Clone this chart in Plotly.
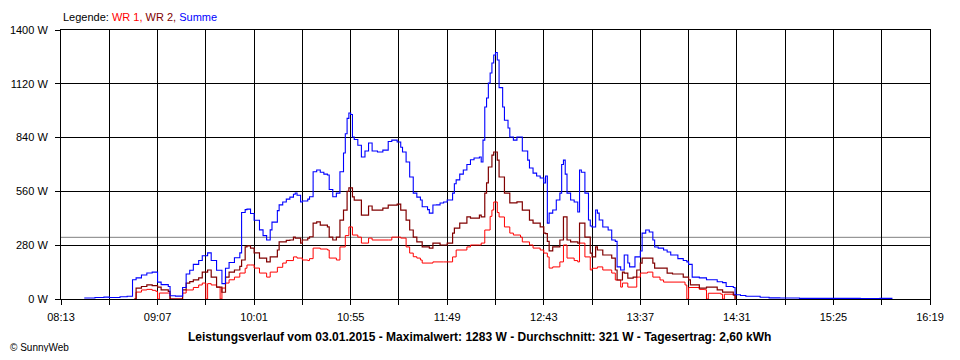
import plotly.graph_objects as go

# ---------------- data ----------------
tick_labels = ["08:13", "09:07", "10:01", "10:55", "11:49", "12:43", "13:37", "14:31", "15:25", "16:19"]
y_ticks = [0, 280, 560, 840, 1120, 1400]
average_w = 321

sum_times = ["08:26", "08:32", "08:37", "08:40", "08:46", "08:50", "08:53", "08:55", "08:58", "09:01",
             "09:04", "09:07", "09:09", "09:13", "09:14", "09:17", "09:21", "09:23", "09:25", "09:27",
             "09:30", "09:32", "09:35", "09:37", "09:40", "09:43", "09:45", "09:47", "09:50", "09:53",
             "09:54", "09:56", "09:57", "09:59", "10:01", "10:04", "10:06", "10:08", "10:10", "10:11",
             "10:14", "10:15", "10:17", "10:19", "10:21", "10:23", "10:24", "10:25", "10:27", "10:28",
             "10:31", "10:32", "10:34", "10:36", "10:38", "10:40", "10:42", "10:43", "10:45", "10:47",
             "10:49", "10:51", "10:52", "10:53", "10:54", "10:55", "10:56", "10:57", "10:59", "11:01",
             "11:03", "11:05", "11:07", "11:10", "11:13", "11:16", "11:18", "11:21", "11:23", "11:24",
             "11:26", "11:28", "11:30", "11:32", "11:34", "11:35", "11:38", "11:39", "11:41", "11:43",
             "11:45", "11:47", "11:49", "11:52", "11:53", "11:54", "11:56", "11:58", "12:00", "12:02",
             "12:04", "12:07", "12:08", "12:09", "12:10", "12:11", "12:12", "12:13", "12:14", "12:15",
             "12:16", "12:17", "12:18", "12:20", "12:21", "12:23", "12:24", "12:26", "12:28", "12:30",
             "12:31", "12:34", "12:35", "12:37", "12:39", "12:41", "12:43", "12:44", "12:45", "12:46",
             "12:48", "12:50", "12:52", "12:53", "12:54", "12:55", "12:56", "12:58", "13:00", "13:02",
             "13:03", "13:04", "13:06", "13:08", "13:09", "13:10", "13:12", "13:13", "13:14", "13:16",
             "13:19", "13:21", "13:23", "13:24", "13:26", "13:28", "13:30", "13:31", "13:34", "13:35",
             "13:37", "13:38", "13:40", "13:41", "13:42", "13:44", "13:45", "13:47", "13:50", "13:52",
             "13:54", "13:58", "14:01", "14:03", "14:04", "14:06", "14:10", "14:14", "14:20", "14:23",
             "14:25", "14:29", "14:30", "14:33", "14:36", "14:44", "14:49", "14:55", "15:06", "15:17",
             "15:29", "15:40", "15:51", "15:58"]
sum_values = [5, 8, 10, 8, 12, 14, 100, 110, 125, 135,
              140, 88, 75, 65, 17, 15, 60, 130, 150, 180,
              200, 225, 240, 200, 150, 80, 160, 190, 215, 240,
              450, 465, 468, 445, 410, 360, 330, 307, 360, 400,
              460, 490, 505, 520, 530, 545, 552, 540, 505, 510,
              520, 532, 662, 671, 660, 650, 645, 570, 532, 551,
              662, 760, 860, 940, 968, 960, 843, 830, 800, 739,
              770, 812, 770, 765, 775, 820, 827, 817, 790, 765,
              713, 635, 551, 530, 515, 480, 465, 447, 489, 490,
              500, 505, 515, 551, 600, 620, 650, 671, 700, 725,
              734, 739, 713, 827, 999, 1046, 1124, 1176, 1228, 1270,
              1283, 1244, 1100, 999, 930, 890, 843, 827, 843, 843,
              770, 723, 682, 655, 640, 630, 604, 640, 395, 447,
              463, 515, 551, 700, 723, 650, 551, 515, 505, 453,
              671, 660, 551, 411, 380, 375, 463, 447, 411, 375,
              359, 307, 300, 167, 151, 229, 187, 167, 219, 219,
              250, 343, 359, 359, 349, 307, 271, 265, 255, 245,
              229, 210, 200, 193, 180, 114, 110, 100, 90, 85,
              65, 60, 22, 18, 14, 9, 6, 5, 3, 3,
              3, 2, 3, 3]

wr2_times = ["08:54", "08:55", "08:58", "09:01", "09:04", "09:07", "09:09", "09:13", "09:14", "09:21",
             "09:23", "09:25", "09:27", "09:30", "09:32", "09:35", "09:37", "09:40", "09:43", "09:45",
             "09:47", "09:50", "09:53", "09:54", "09:56", "09:57", "09:59", "10:01", "10:04", "10:08",
             "10:10", "10:14", "10:15", "10:19", "10:21", "10:23", "10:24", "10:27", "10:28", "10:31",
             "10:32", "10:34", "10:36", "10:38", "10:42", "10:43", "10:45", "10:47", "10:49", "10:51",
             "10:53", "10:54", "10:56", "10:57", "11:01", "11:05", "11:07", "11:13", "11:16", "11:21",
             "11:23", "11:26", "11:28", "11:30", "11:32", "11:35", "11:39", "11:41", "11:45", "11:49",
             "11:52", "11:53", "11:56", "12:00", "12:02", "12:07", "12:08", "12:10", "12:11", "12:12",
             "12:14", "12:15", "12:17", "12:18", "12:21", "12:24", "12:28", "12:30", "12:31", "12:35",
             "12:37", "12:41", "12:43", "12:44", "12:45", "12:46", "12:48", "12:52", "12:54", "12:56",
             "12:58", "13:02", "13:03", "13:06", "13:09", "13:10", "13:12", "13:13", "13:16", "13:21",
             "13:23", "13:24", "13:27", "13:28", "13:30", "13:33", "13:35", "13:37", "13:38", "13:42",
             "13:44", "13:45", "13:48", "13:52", "13:55", "14:01", "14:04", "14:05", "14:10", "14:14",
             "14:20", "14:23", "14:29", "14:30"]
wr2_values = [0, 57, 65, 73, 70, 62, 47, 40, 0, 47,
              83, 90, 100, 110, 140, 151, 114, 62, 35, 114,
              140, 151, 170, 203, 271, 276, 265, 240, 213, 193,
              219, 255, 297, 305, 307, 322, 317, 291, 307, 317,
              324, 395, 401, 385, 375, 322, 307, 322, 411, 463,
              560, 578, 531, 515, 437, 484, 463, 473, 489, 494,
              463, 411, 359, 322, 297, 271, 265, 291, 281, 291,
              343, 369, 395, 427, 421, 437, 427, 551, 604, 687,
              749, 765, 723, 635, 551, 500, 505, 505, 463, 411,
              395, 375, 343, 340, 300, 250, 271, 307, 427, 307,
              297, 291, 395, 322, 239, 219, 271, 255, 229, 213,
              151, 99, 140, 135, 109, 114, 151, 187, 213, 213,
              187, 161, 161, 135, 130, 114, 100, 73, 57, 62,
              47, 36, 21, 0]

wr1_times = ["08:54", "08:55", "08:58", "09:01", "09:04", "09:06", "09:07", "09:08", "09:13", "09:14",
             "09:21", "09:23", "09:27", "09:30", "09:32", "09:34", "09:35", "09:37", "09:40", "09:42",
             "09:43", "09:45", "09:47", "09:50", "09:53", "09:56", "09:57", "09:59", "10:01", "10:04",
             "10:08", "10:10", "10:14", "10:17", "10:19", "10:23", "10:25", "10:28", "10:31", "10:32",
             "10:34", "10:38", "10:42", "10:43", "10:47", "10:49", "10:52", "10:54", "10:56", "10:59",
             "11:01", "11:05", "11:07", "11:16", "11:18", "11:21", "11:23", "11:26", "11:28", "11:30",
             "11:32", "11:34", "11:35", "11:41", "11:47", "11:52", "11:54", "12:00", "12:02", "12:07",
             "12:08", "12:10", "12:13", "12:14", "12:15", "12:17", "12:18", "12:21", "12:24", "12:26",
             "12:30", "12:31", "12:35", "12:37", "12:41", "12:43", "12:45", "12:46", "12:48", "12:52",
             "12:54", "12:56", "13:00", "13:02", "13:03", "13:06", "13:09", "13:10", "13:13", "13:16",
             "13:21", "13:23", "13:26", "13:27", "13:30", "13:35", "13:37", "13:41", "13:44", "13:48",
             "13:50", "14:02", "14:03", "14:04", "14:10", "14:13", "14:14", "14:15", "14:22", "14:23",
             "14:24", "14:29", "14:30"]
wr1_values = [0, 36, 47, 50, 45, 40, 0, 31, 31, 0,
              31, 47, 60, 73, 83, 0, 80, 73, 62, 0,
              57, 83, 100, 114, 135, 160, 177, 177, 161, 135,
              114, 140, 165, 187, 200, 219, 213, 203, 200, 210,
              265, 260, 255, 213, 203, 271, 330, 375, 333, 322,
              291, 317, 307, 307, 322, 322, 317, 271, 239, 220,
              213, 203, 187, 193, 193, 219, 255, 271, 281, 281,
              291, 359, 430, 463, 505, 450, 427, 375, 343, 333,
              322, 297, 281, 265, 255, 239, 219, 161, 167, 193,
              281, 213, 200, 193, 291, 219, 151, 160, 167, 151,
              135, 99, 62, 83, 62, 114, 135, 140, 114, 99,
              88, 73, 0, 60, 50, 48, 0, 30, 25, 0,
              25, 20, 0]


def to_min(t):
    h, m = t.split(":")
    return int(h) * 60 + int(m)


x_start = to_min(tick_labels[0])
x_end = to_min(tick_labels[-1])

# page body has an 8px margin: plot area lands at window x 61..930, y 30..299
PAGE = 8
W, H = 944, 344
PL, PR, PT, PB = 61, 930, 30, 299


def px(xw):
    return (xw - PL) / (PR - PL)


def py(yw):
    return (PB - yw) / (PB - PT)


fig = go.Figure()
fig.add_trace(go.Scatter(x=[to_min(t) for t in wr1_times], y=wr1_values, mode="lines",
                         line=dict(color="#FF0000", width=1, shape="hv"), name="WR 1"))
fig.add_trace(go.Scatter(x=[to_min(t) for t in wr2_times], y=wr2_values, mode="lines",
                         line=dict(color="#800000", width=1.2, shape="hv"), name="WR 2"))
fig.add_trace(go.Scatter(x=[to_min(t) for t in sum_times], y=sum_values, mode="lines",
                         line=dict(color="#0000FF", width=1.1, shape="hv"), name="Summe"))

# average line
fig.add_shape(type="line", xref="paper", x0=0, x1=1, yref="y", y0=average_w, y1=average_w,
              line=dict(color="#808080", width=1), layer="below")

font = "Liberation Sans, Arial, sans-serif"

fig.update_layout(
    template="none",
    autosize=False,
    width=W, height=H,
    margin=dict(l=PL - PAGE, r=W - (PR - PAGE), t=PT - PAGE, b=H - (PB - PAGE), pad=0, autoexpand=False),
    paper_bgcolor="white", plot_bgcolor="white",
    showlegend=False,
    font=dict(family=font, size=11, color="black"),
    xaxis=dict(
        automargin=False,
        range=[x_start, x_end],
        tickmode="array",
        tickvals=[to_min(t) for t in tick_labels],
        ticktext=tick_labels,
        ticks="outside", ticklen=5, tickcolor="black", tickwidth=1,
        ticklabelstandoff=3,
        showgrid=True, gridcolor="black", gridwidth=1,
        minor=dict(tick0=x_start, dtick=27, ticks="outside", ticklen=5, tickcolor="black",
                   showgrid=True, gridcolor="black", gridwidth=1),
        showline=True, linecolor="black", linewidth=1, mirror=True,
        zeroline=False, tickfont=dict(family=font, size=11, color="black"),
    ),
    yaxis=dict(
        automargin=False,
        range=[0, 1400],
        tickmode="array",
        tickvals=y_ticks,
        ticktext=[f"{v} W" for v in y_ticks],
        ticks="outside", ticklen=5, tickcolor="black", tickwidth=1,
        ticklabelstandoff=5,
        showgrid=True, gridcolor="black", gridwidth=1,
        showline=True, linecolor="black", linewidth=1, mirror=True,
        zeroline=False, tickfont=dict(family=font, size=11, color="black"),
    ),
)

fig.add_annotation(
    xref="paper", yref="paper", x=px(61), y=py(17), xanchor="left", yanchor="middle",
    showarrow=False,
    text="Legende: <span style='color:#FF0000'>WR 1, </span><span style='color:#800000'>WR 2, </span>"
         "<span style='color:#0000FF'>Summe</span>",
    font=dict(family=font, size=11, color="black"),
)
fig.add_annotation(
    xref="paper", yref="paper", x=px(479.5), y=py(337), xanchor="center", yanchor="middle",
    showarrow=False,
    text="<b>Leistungsverlauf vom 03.01.2015 - Maximalwert: 1283 W - Durchschnitt: 321 W - Tagesertrag: 2,60 kWh</b>",
    font=dict(family=font, size=12, color="black"),
)
fig.add_annotation(
    xref="paper", yref="paper", x=px(PAGE), y=py(347), xanchor="left", yanchor="middle",
    showarrow=False,
    text="© SunnyWeb",
    font=dict(family=font, size=10, color="black"),
)

fig.write_html("out.html")
